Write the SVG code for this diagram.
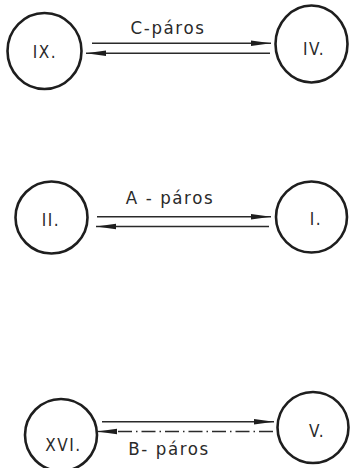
<svg xmlns="http://www.w3.org/2000/svg" width="350" height="468" viewBox="0 0 350 468">
<style>
.node{fill:none;stroke:#1e1e1e;stroke-width:2.6}
.lbl{font-family:"DejaVu Sans Condensed","DejaVu Sans",sans-serif;font-size:17px;fill:#2a2a2a;text-anchor:middle;letter-spacing:1.5px}
.pair{font-family:"DejaVu Sans Condensed","DejaVu Sans",sans-serif;font-size:18.5px;fill:#2a2a2a;text-anchor:middle;letter-spacing:1.6px}
.ln{stroke:#2a2a2a;stroke-width:1.4;fill:none}
.dd{stroke-dasharray:14 4 1.5 4}
</style>
<defs>
<marker id="ah" markerWidth="20" markerHeight="8" refX="20" refY="4" orient="auto" markerUnits="userSpaceOnUse">
<path d="M0,1.3 L20,4 L0,6.7 Z" fill="#1e1e1e"/>
</marker>
</defs>
<rect width="350" height="468" fill="#fff"/>
<g id="n-IX"><ellipse class="node" cx="44.5" cy="51" rx="37" ry="38"/><text class="lbl" x="45" y="58">IX.</text></g>
<g id="n-IV"><ellipse class="node" cx="311.5" cy="44" rx="36" ry="38.5"/><text class="lbl" x="314" y="55">IV.</text></g>
<g id="n-II"><circle class="node" cx="51.5" cy="217.5" r="36"/><text class="lbl" x="51" y="226">II.</text></g>
<g id="n-I"><circle class="node" cx="311.5" cy="217" r="35.5"/><text class="lbl" x="316" y="225">I.</text></g>
<g id="n-XVI"><circle class="node" cx="61" cy="435" r="36"/><text class="lbl" x="63.5" y="451">XVI.</text></g>
<g id="n-V"><circle class="node" cx="313" cy="427.5" r="35.5"/><text class="lbl" x="317" y="437">V.</text></g>
<g id="connectors">
<line class="ln" x1="92" y1="43.3" x2="271" y2="43.3" marker-end="url(#ah)"/>
<line class="ln" x1="270" y1="53.3" x2="86" y2="53.3" marker-end="url(#ah)"/>
<line class="ln" x1="97" y1="216.7" x2="271" y2="216.7" marker-end="url(#ah)"/>
<line class="ln" x1="269" y1="226.5" x2="96" y2="226.5" marker-end="url(#ah)"/>
<line class="ln" x1="102" y1="421.7" x2="274" y2="421.7" marker-end="url(#ah)"/>
<line class="ln dd" x1="273" y1="431.5" x2="116" y2="431.5"/>
<line class="ln" x1="117" y1="431.5" x2="97" y2="431.5" marker-end="url(#ah)"/>
</g>
<g id="labels">
<text class="pair" x="168" y="33.5">C-páros</text>
<text class="pair" x="170" y="203.5">A - páros</text>
<text class="pair" x="169" y="455">B- páros</text>
</g>
</svg>
